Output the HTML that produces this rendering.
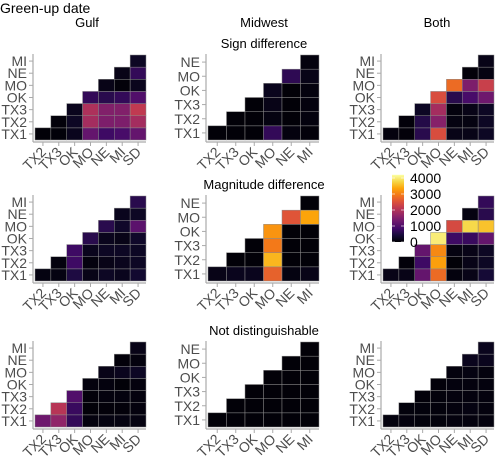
<!DOCTYPE html>
<html><head><meta charset="utf-8"><style>
body{margin:0;background:#fff;width:495px;height:461px;overflow:hidden}
svg{font-family:"Liberation Sans",sans-serif}
</style></head><body>
<svg id="chart" width="495" height="461"></svg>
<script>
const catsG = ["TX1","TX2","TX3","OK","MO","NE","MI","SD"];
const catsM = ["TX1","TX2","TX3","OK","MO","NE","MI"];
const legendTicks = [0,1000,2000,3000,4000];
const valMax = 4200;
const gulfSign = [[30,40,200,1200,800,900,1200],[50,250,1850,1450,1450,1850],[200,1950,1500,1500,2150],[700,600,700,1000],[150,50,200],[150,700],[250]];
const midSign = [[30,30,30,700,80,50],[30,30,100,30,80],[30,150,30,80],[200,30,80],[650,150],[80]];
const bothSign = [[80,50,600,2450,150,150,250],[50,550,1550,100,100,250],[250,1850,80,150,250],[2450,600,900,1300],[2800,1450,2250],[50,100],[150]];
const gulfMag = [[100,100,500,150,250,200,350],[80,800,80,150,200,250],[800,200,250,250,250],[600,200,150,300],[600,300,1100],[200,250],[600]];
const midMag = [[150,200,200,2700,100,150],[30,30,3500,30,30],[30,2950,30,30],[3200,30,30],[2550,3350],[30]];
const bothMag = [[150,150,1200,2800,80,150,400],[50,800,3300,30,150,250],[1200,3100,100,150,250],[4000,800,750,1200],[2400,3800,3600],[100,600],[700]];
const gulfNot = [[1300,1650,700,80,100,100,100],[2050,750,30,50,50,80],[1000,50,80,80,80],[80,80,30,80],[150,200,250],[50,80],[150]];
const midNot = [[30,30,30,30,30,30],[30,30,30,30,30],[30,30,30,30],[30,30,30],[30,30],[30]];
const bothNot = [[80,80,60,60,80,80,80],[60,60,60,80,100,80],[50,60,80,80,80],[50,80,80,80],[80,100,80],[200,200],[200]];

const stops=["#000004","#160b39","#420a68","#6a176e","#932667","#bc3754","#dd513a","#f37819","#fca50a","#f6d746","#fcffa4"];
function hex(h){return [1,3,5].map(i=>parseInt(h.substr(i,2),16));}
function color(v){let t=Math.max(0,Math.min(1,v/valMax))*10;let i=Math.min(9,Math.floor(t));let f=t-i;
 const a=hex(stops[i]),b=hex(stops[i+1]);return `rgb(${a.map((x,k)=>Math.round(x+(b[k]-x)*f)).join(",")})`;}
const NS="http://www.w3.org/2000/svg";const svg=document.getElementById("chart");
function mk(tag,attrs,parent){const e=document.createElementNS(NS,tag);for(const k in attrs)e.setAttribute(k,attrs[k]);(parent||svg).appendChild(e);return e;}
function txt(s,attrs,parent){const e=mk("text",attrs,parent);e.textContent=s;return e;}

function panel(name,data,cats,x0,y0){
 const g=mk("g",{});
 
 
 const n=cats.length-1;const W=111,H=85;const cw=W/n,ch=H/n;
 const xs=c=>x0+c*cw; const ys=r=>y0+H-(r+1)*ch;
 data.forEach((row,r)=>row.forEach((v,k)=>{const c=r+k;
  const rc=mk("rect",{x:xs(c),y:ys(r),width:cw,height:ch,fill:color(v),stroke:"#8a8a8a","stroke-width":0.5},g);
  
  
 }));
 mk("line",{x1:x0-2,y1:y0-1,x2:x0-2,y2:y0+H+2,stroke:"#aaa","stroke-width":1.2},g);
 mk("line",{x1:x0-2,y1:y0+H+2,x2:x0+W,y2:y0+H+2,stroke:"#aaa","stroke-width":1.2},g);
 for(let r=0;r<n;r++){const y=ys(r)+ch/2;
  mk("line",{x1:x0-6,y1:y,x2:x0-2,y2:y,stroke:"#aaa"},g);
  const t=txt(cats[r],{x:x0-8,y:y+5,"text-anchor":"end","font-size":14,fill:"#4d4d4d"},g);
  
  
 }
 for(let c=0;c<n;c++){const x=xs(c)+cw/2;
  mk("line",{x1:x,y1:y0+H+2,x2:x,y2:y0+H+6,stroke:"#aaa"},g);
  const t=txt(cats[c+1],{x:x+4,y:y0+H+13,"text-anchor":"end","font-size":14,fill:"#4d4d4d",transform:`rotate(-45 ${x+4} ${y0+H+13})`},g);
  
  
 }
}
const cols=[35,208,383], rowsY=[55,196,342];
const sets=[[gulfSign,midSign,bothSign],[gulfMag,midMag,bothMag],[gulfNot,midNot,bothNot]];
const names=["sign","magnitude","not-distinguishable"],cn=["gulf","midwest","both"];
sets.forEach((row,i)=>row.forEach((d,j)=>panel(cn[j]+"-"+names[i]+"-panel",d,j==1?catsM:catsG,cols[j],rowsY[i])));

function label(s,x,y,size,anchor,name){const t=txt(s,{x:x,y:y,"font-size":size,"text-anchor":anchor,fill:"#000"});
 }
label("Green-up date",0,13,14,"start","chart-title");
label("Gulf",87,27,13,"middle","gulf-column-title");
label("Midwest",264,27,13,"middle","midwest-column-title");
label("Both",437,27,13,"middle","both-column-title");
label("Sign difference",264,48,13,"middle","sign-row-title");
label("Magnitude difference",264,189,13,"middle","magnitude-row-title");
label("Not distinguishable",264,335,13,"middle","not-distinguishable-row-title");

const lg=mk("g",{});


const defs=mk("defs",{},lg);const grad=mk("linearGradient",{id:"gr",x1:0,y1:1,x2:0,y2:0},defs);
stops.forEach((s,i)=>mk("stop",{offset:i/10,"stop-color":s},grad));
const ly=v=>242-v/4000*64;
mk("rect",{x:392,y:ly(valMax),width:12,height:ly(0)-ly(valMax),fill:"url(#gr)"},lg);
legendTicks.forEach(v=>{
 mk("line",{x1:392,x2:395,y1:ly(v),y2:ly(v),stroke:"#fff","stroke-width":0.6},lg);
 mk("line",{x1:401,x2:404,y1:ly(v),y2:ly(v),stroke:"#fff","stroke-width":0.6},lg);
 const t=txt(String(v),{x:410,y:ly(v)+5,"font-size":14,fill:"#000"},lg);
 
 
});
</script>
</body></html>
